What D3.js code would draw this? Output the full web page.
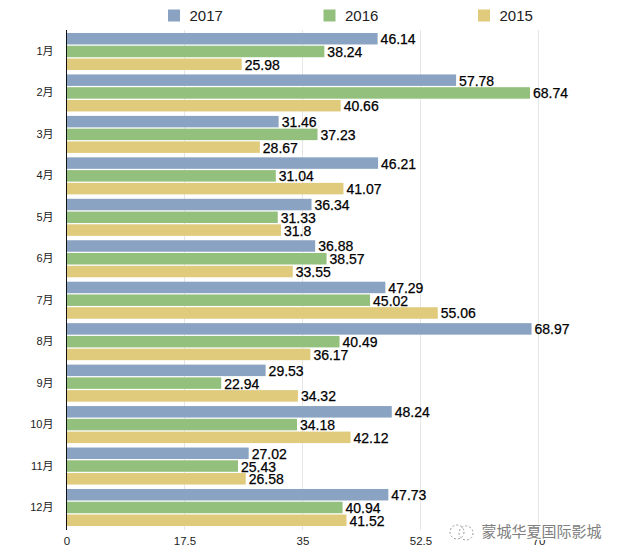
<!DOCTYPE html>
<html><head><meta charset="utf-8">
<script src="https://cdn.jsdelivr.net/npm/d3@7/dist/d3.min.js"></script>
<style>html,body{margin:0;background:#fff}svg{display:block}text{font-family:"Liberation Sans","Noto Sans CJK SC",sans-serif}</style>
</head><body><svg id="c" width="620" height="559"></svg>
<script>
const months=["1月","2月","3月","4月","5月","6月","7月","8月","9月","10月","11月","12月"];
const years=["2017","2016","2015"];
const colors=["#8aa3c2","#93c07c","#e0ca7c"];
const v2017=[46.14,57.78,31.46,46.21,36.34,36.88,47.29,68.97,29.53,48.24,27.02,47.73];
const v2016=[38.24,68.74,37.23,31.04,31.33,38.57,45.02,40.49,22.94,34.18,25.43,40.94];
const v2015=[25.98,40.66,28.67,41.07,31.8,33.55,55.06,36.17,34.32,42.12,26.58,41.52];
const ticks=[0,17.5,35,52.5,70];
const series=[v2017,v2016,v2015];
const svg=d3.select("#c");
const x=d3.scaleLinear().domain([0,70]).range([66.5,538.5]);
const y=d3.scaleBand().domain(months).range([30.9,528.07]).paddingInner(0.107).paddingOuter(0.05);
const y1=d3.scaleBand().domain(years).range([0,y.bandwidth()]).paddingInner(0.1).paddingOuter(0);
// grid
svg.append("g").selectAll("line").data(ticks.slice(1)).join("line")
 .attr("x1",d=>x(d)).attr("x2",d=>x(d)).attr("y1",30).attr("y2",530).attr("stroke","#e6e6e6");
// bars
const g=svg.append("g").selectAll("g").data(months).join("g").attr("transform",d=>`translate(0,${y(d)})`);
years.forEach((yr,si)=>{
 g.append("rect").attr("x",x(0)).attr("y",y1(yr)).attr("height",y1.bandwidth())
  .attr("width",(d,i)=>x(series[si][i])-x(0)).attr("fill",colors[si]);
 g.append("text").attr("x",(d,i)=>x(series[si][i])+3).attr("y",y1(yr)+y1.bandwidth()/2+5.5)
  .attr("font-size",14).attr("fill","#000").attr("stroke","#000").attr("stroke-width",0.25).text((d,i)=>series[si][i]);
});
// axes
const ax=d3.axisBottom(x).tickValues(ticks).tickSize(0).tickPadding(7).tickFormat(d=>d);
const xg=svg.append("g").attr("transform","translate(0,530)").call(ax);
xg.select(".domain").remove();
xg.selectAll("text").attr("font-size",11.5).attr("fill","#222").style("font-family",'"Liberation Sans",sans-serif');
const ay=d3.axisLeft(y).tickSize(0).tickPadding(13);
const yg=svg.append("g").attr("transform","translate(66.5,0)").call(ay);
yg.select(".domain").remove();
yg.selectAll("text").attr("font-size",11).attr("fill","#222").style("font-family",'"Liberation Sans","Noto Sans CJK SC",sans-serif');
svg.append("line").attr("x1",66.5).attr("x2",66.5).attr("y1",30).attr("y2",530).attr("stroke","#111");
// legend
const lx=[168,323.5,478];
years.forEach((yr,i)=>{
 svg.append("rect").attr("x",lx[i]).attr("y",9.5).attr("width",12).attr("height",12).attr("fill",colors[i]);
 svg.append("text").attr("x",lx[i]+21.5).attr("y",21).attr("font-size",15).attr("fill","#222").text(yr);
});
// watermark
const wm=svg.append("g");
wm.append("text").attr("x",481.5).attr("y",537).attr("font-size",15).attr("fill","#808080")
 .attr("stroke","#fff").attr("stroke-width",2.5).attr("paint-order","stroke")
 .style("font-family",'"Noto Sans CJK SC",sans-serif').text("蒙城华夏国际影城");
[[457,532,7],[466,533,7]].forEach(c=>wm.append("circle").attr("cx",c[0]).attr("cy",c[1]).attr("r",c[2])
 .attr("fill","none").attr("stroke","#999").attr("stroke-width",1).attr("stroke-dasharray","2 2"));
</script></body></html>
